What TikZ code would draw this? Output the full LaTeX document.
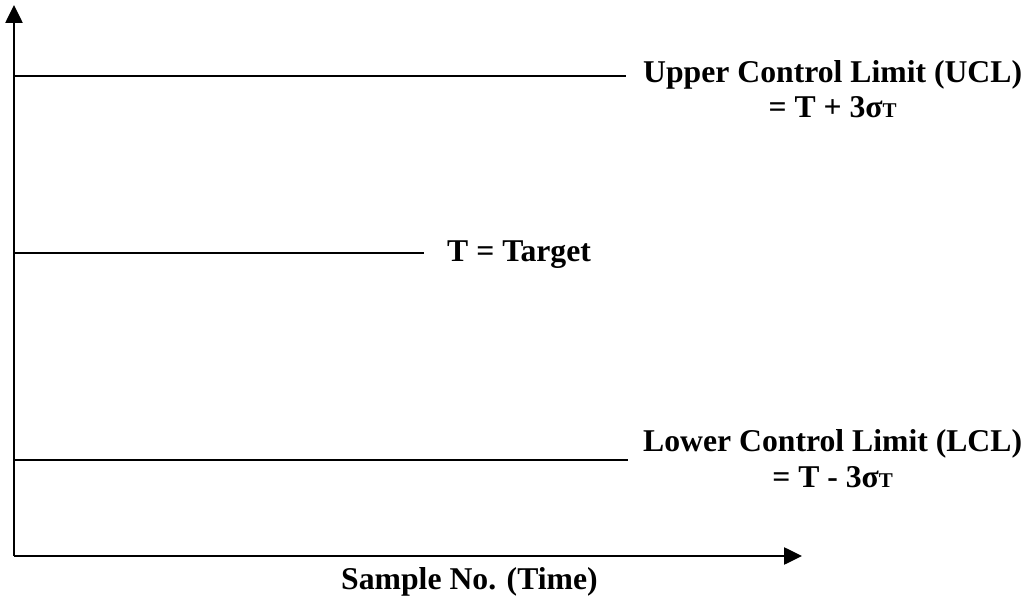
\documentclass[tikz,border=0pt]{standalone}
\usepackage{fontspec}
\setmainfont{Liberation Serif}
\usetikzlibrary{arrows.meta,calc}
\begin{document}
\begin{tikzpicture}[x=1pt,y=1pt,
  axis/.style={line width=2.6pt,-{Triangle[length=18pt,width=17pt]}},
  level/.style={line width=1.7pt},
  lbl/.style={inner sep=0pt,font=\fontsize{31.7}{35}\selectfont\bfseries}]
\useasboundingbox (0,0) rectangle (1029,606);
% axes
\coordinate (O) at (14,50);
\coordinate (ytop) at (14,601);
\coordinate (xend) at (802,50);
\draw[axis] (O) -- (ytop);
\draw[axis] (O) -- (xend);
% levels
\coordinate (uclS) at (14,530);
\coordinate (uclE) at (626,530);
\coordinate (tS) at (14,353);
\coordinate (tE) at (424,353);
\coordinate (lclS) at (14,146);
\coordinate (lclE) at (628,146);
\draw[level] (uclS) -- (uclE);
\draw[level] (tS) -- (tE);
\draw[level] (lclS) -- (lclE);
% labels
\node[lbl,anchor=base west] (ucl1) at (643,523) {Upper Control Limit (UCL)};
\node[lbl,anchor=base] (ucl2) at ($(ucl1.base)+(0,-35)$) {= T + 3σ{\fontsize{21}{21}\selectfont T}};
\node[lbl,anchor=base west] (tgt) at (447,344) {T = Target};
\node[lbl,anchor=base west] (lcl1) at (643,154) {Lower Control Limit (LCL)};
\node[lbl,anchor=base] (lcl2) at ($(lcl1.base)+(0,-35)$) {= T - 3σ{\fontsize{21}{21}\selectfont T}};
\node[lbl,anchor=base west] (xl) at (341,17) {Sample No. (Time)};
\end{tikzpicture}
\end{document}
